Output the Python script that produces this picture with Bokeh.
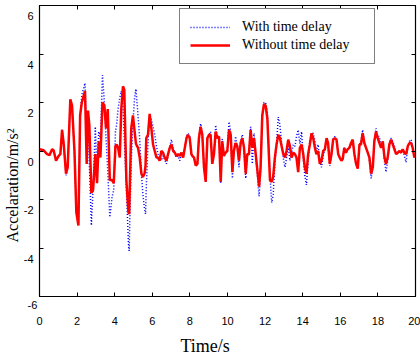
from bokeh.plotting import figure
from bokeh.models import (Range1d, LinearAxis, FixedTicker, Title, Legend,
                          LegendItem)
from bokeh.embed import file_html
from bokeh.resources import INLINE

x_ticks = [0, 2, 4, 6, 8, 10, 12, 14, 16, 18, 20]
y_ticks = [-6, -4, -2, 0, 2, 4, 6]
y_tick_labels = ["-6", "-4", "-2", "0", "2", "4", "6"]

time_s = [
    0.0, 0.22, 0.4, 0.53, 0.67, 0.75, 0.88, 1.02, 1.11, 1.2, 1.29, 1.41, 1.5, 1.64, 1.73, 1.86, 1.96, 2.07, 2.16, 2.25,
    2.35, 2.42, 2.51, 2.58, 2.65, 2.76, 2.85, 2.97, 3.06, 3.15, 3.24, 3.35, 3.45, 3.54, 3.63, 3.74, 3.86, 3.95, 4.04,
    4.1, 4.18, 4.27, 4.35, 4.44, 4.51, 4.62, 4.73, 4.77, 4.8, 4.88, 4.97, 5.06, 5.13, 5.24, 5.33, 5.42, 5.5, 5.59, 5.64,
    5.68, 5.77, 5.86, 5.95, 6.04, 6.13, 6.22, 6.3, 6.39, 6.48, 6.57, 6.66, 6.75, 6.84, 6.93, 7.02, 7.11, 7.2, 7.28, 7.37,
    7.46, 7.55, 7.64, 7.73, 7.82, 7.9, 7.99, 8.08,
    8.13, 8.22, 8.31, 8.4, 8.48, 8.57, 8.66, 8.75, 8.84, 8.93, 9.02, 9.1, 9.19, 9.28, 9.37, 9.46, 9.55, 9.64, 9.72, 9.81,
    9.9, 9.99, 10.08, 10.17, 10.26, 10.34, 10.43, 10.52, 10.61, 10.7, 10.79, 10.88, 10.97, 11.05, 11.14, 11.23, 11.32,
    11.41, 11.5, 11.59, 11.68, 11.76, 11.85, 11.94, 12.03, 12.12,
    12.17, 12.26, 12.35, 12.43, 12.52, 12.61, 12.7, 12.79, 12.88, 12.97, 13.06, 13.14, 13.23, 13.32, 13.41, 13.5, 13.59,
    13.67, 13.76, 13.85, 13.94, 14.03, 14.11, 14.2, 14.29, 14.38, 14.47, 14.56, 14.65, 14.73, 14.82, 14.91, 15.0, 15.09,
    15.18, 15.27, 15.35, 15.44, 15.53, 15.62, 15.71, 15.8, 15.89, 15.97, 16.06,
    16.13, 16.21, 16.3, 16.39, 16.48, 16.57, 16.66, 16.75, 16.84, 16.93, 17.02, 17.1, 17.19, 17.28, 17.37, 17.46, 17.55,
    17.64, 17.73, 17.81, 17.9, 17.99, 18.08, 18.17, 18.26, 18.35, 18.43, 18.52, 18.61, 18.7, 18.79, 18.88, 18.97, 19.06,
    19.14, 19.23, 19.32, 19.41, 19.5, 19.59, 19.68, 19.77, 19.85, 19.94, 20.0,
]

acc_without_delay = [
    0.07, 0.03, -0.13, -0.17, 0.07, 0.03, -0.4, -0.2, -0.13, 0.87, 0.27, -0.93, -0.67, 2.13, 1.87, 0.0, -2.53, -3.07, 1.47, 2.0,
    2.27, 2.47, -0.53, 1.67, 1.07, -1.73, -1.6, -0.13, -1.33, 0.4, -0.27, 2.0, 1.87, 0.93, 1.73, -1.2, -1.2, -1.33, 0.2,
    0.27, 0.13, -0.27, 1.73, 2.67, 2.53, -1.2, -2.53, -2.6, -1.6, 0.93, 1.47, 0.8, 0.3, 0.13, -0.27, -0.93, -1.07, -0.93, -0.6,
    0.53, 0.67, 1.53, 0.93, 0.27, 0.0, -0.27, -0.27, -0.4, 0.0, -0.07, -0.27, -0.4, -0.13, 0.13, 0.27, 0.0, -0.07, -0.2, -0.13,
    -0.2, -0.07, -0.27, 0.13, 0.53, 0.67, 0.53, -0.13,
    -0.2, -0.27, -0.6, -0.53, 0.53, 1.0, 0.67, -0.67, -1.27, 0.53, 0.67, 0.67, -0.53, -0.13, 0.8, 0.53, 0.6, -1.27, 0.4, -0.2,
    -0.07, 0.0, 0.87, 0.67, -0.87, 0.0, 0.33, 0.2, -0.4, 0.33, 0.53, 0.13, -0.93, -0.13, -0.13, 0.87, 0.13,
    0.53, -0.13, -0.8, -1.47, -0.67, 1.47, 1.93, 1.87, 1.33,
    0.4, -1.2, -1.27, -1.07, -0.27, 0.27, 0.67, 0.53, 0.2, -0.13, -0.27, 0.0, 0.47, 0.2, -0.27, -0.07, -0.13,
    -0.27, -0.87, 0.13, 0.27, -0.13, -0.67, -0.93, -0.13, 0.27, 0.73, 0.53, 0.13, -0.13, 0.0, -0.53, -0.4, 0.0,
    0.07, 0.53, 0.33, -0.53, -0.13, 0.47, 0.53, 0.47, -0.13, -0.27, -0.4,
    -0.33, 0.13, -0.07, 0.07, 0.13, 0.33, 0.47, -0.13, -0.53, -0.73, 0.27, 0.27, 0.73, 0.33, 0.13, -0.07, -0.27,
    -0.93, -0.67, 0.4, 0.8, 0.53, 0.33, 0.13, 0.4, -0.27, -0.53, -0.27, 0.27, 0.47, 0.27, 0.07, -0.13, -0.07,
    0.0, -0.07, 0.07, -0.07, -0.13, 0.2, 0.33, 0.33, 0.13, -0.27, -0.1,
]

acc_with_delay = [
    0.07, 0.03, -0.13, -0.17, 0.07, 0.03, -0.4, -0.2, -0.13, 0.87, 0.3, -1.0, -0.7, 2.1, 1.9, 0.0, -2.5, -3.0, 1.3, 2.3,
    2.6, 2.8, 0.8, 1.2, -0.5, -3.07, -1.5, 1.0, -1.0, 0.8, 0.5, 3.13, 2.0, 0.5, -0.8, -2.73, -1.9, -1.6, 0.8,
    1.07, 1.73, 2.2, 2.47, 1.8, 0.5, -1.5, -3.8, -4.13, -3.0, -0.5, 1.2, 2.2, 2.56, 1.47, 0.5, -0.93, -1.8, -2.4, -2.6,
    -1.5, 0.3, 1.5, 1.3, 1.0, 0.67, 0.2, -0.13, -0.3, -0.4, -0.2, -0.35, -0.53, -0.2, 0.2, 0.47, 0.1, -0.1, -0.27, -0.2,
    -0.4, -0.13, -0.27, 0.13, 0.6, 0.73, 0.6, -0.13,
    -0.2, -0.27, -0.6, -0.53, 0.6, 1.13, 0.67, -0.67, -1.27, 0.53, 0.67, 0.8, -0.53, -0.13, 1.07, 0.53, 0.6, -1.33, 0.5, -0.2,
    -0.07, 0.0, 1.2, 0.8, -1.13, 0.0, 0.6, 0.2, -0.67, 0.4, 0.67, 0.13, -1.13, -0.13, -0.13, 1.0, -0.53,
    0.73, -0.2, -1.0, -1.87, -0.9, 1.4, 2.0, 2.0, 1.6,
    0.7, -1.0, -2.13, -1.8, -0.5, 0.3, 1.4, 1.07, 0.3, -0.3, -0.67, -0.3, 0.2, -0.4, -0.1, 0.27, 0.2,
    0.6, 0.87, 0.3, 0.8, -0.3, -1.0, -1.4, -0.4, 0.4, 0.73, 0.73, 0.4, 0.0, 0.27, -0.4, -0.67, -0.2,
    0.1, 0.53, 0.2, -0.6, -0.2, 0.5, 0.6, 0.4, -0.13, -0.3, -0.4,
    -0.27, 0.13, -0.07, 0.07, 0.13, 0.2, 0.47, -0.13, -0.53, -0.73, 0.27, 0.4, 0.87, 0.33, 0.13, -0.07, -0.4,
    -1.13, -0.67, 0.4, 0.93, 0.6, 0.6, 0.13, 0.4, -0.4, -0.87, -0.4, 0.27, 0.53, 0.4, 0.2, -0.13, -0.07,
    0.0, -0.07, 0.07, -0.2, -0.47, 0.2, 0.4, 0.47, 0.13, -0.27, -0.1,
]

n = min(len(time_s), len(acc_without_delay), len(acc_with_delay))
time_s = time_s[:n]
acc_without_delay = acc_without_delay[:n]
acc_with_delay = acc_with_delay[:n]

SANS = "Liberation Sans"
SERIF = "Liberation Serif"
Y_MIN, Y_MAX = -6, 6
LABEL_SHIFT = 0.44  # tick labels sit ~11 px below their ticks in the reference

p = figure(width=420, height=361, output_backend="svg", toolbar_location=None,
           x_range=Range1d(0, 20), y_range=Range1d(Y_MIN, Y_MAX),
           min_border_left=39, min_border_right=5, min_border_top=5, min_border_bottom=58)
p.extra_y_ranges = {"ylab": Range1d(Y_MIN + LABEL_SHIFT, Y_MAX + LABEL_SHIFT)}
p.background_fill_color = "white"
p.border_fill_color = "white"
p.outline_line_color = "black"
p.outline_line_width = 1.2
p.xgrid.visible = False
p.ygrid.visible = False


def ticks_only(axis):
    axis.major_tick_in = 4
    axis.major_tick_out = 0
    axis.minor_tick_line_color = None
    axis.axis_line_color = "black"
    axis.major_label_text_font_size = "0px"
    axis.major_label_text_color = None
    axis.major_label_standoff = 0


# bottom: ticks on the frame edge, then the "-6" of the y scale, then x labels
xa = p.xaxis[0]
xa.ticker = FixedTicker(ticks=x_ticks)
ticks_only(xa)

p.add_layout(Title(text=y_tick_labels[0], align="left", offset=-12, standoff=4,
                   text_font=SANS, text_font_size="11px", text_font_style="normal",
                   text_color="black"), "below")

xlab_axis = LinearAxis(ticker=FixedTicker(ticks=x_ticks), axis_line_color=None,
                       major_tick_line_color=None, minor_tick_line_color=None,
                       major_label_standoff=0, major_label_text_font=SANS,
                       major_label_text_font_size="11px", major_label_text_color="black")
p.add_layout(xlab_axis, "below")

# left: ticks on the frame edge, then labels on a shifted range
ya = p.yaxis[0]
ya.ticker = FixedTicker(ticks=y_ticks)
ticks_only(ya)

ylab_axis = LinearAxis(y_range_name="ylab", ticker=FixedTicker(ticks=y_ticks),
                       major_label_overrides={v: t for v, t in zip(y_ticks, y_tick_labels)},
                       axis_line_color=None, major_tick_line_color=None,
                       minor_tick_line_color=None, major_label_standoff=0,
                       major_label_text_font=SANS, major_label_text_font_size="11px",
                       major_label_text_color="black")
p.add_layout(ylab_axis, "left")

ra = LinearAxis(ticker=FixedTicker(ticks=y_ticks))
ticks_only(ra)
p.add_layout(ra, "right")
ta = LinearAxis(ticker=FixedTicker(ticks=x_ticks))
ticks_only(ta)
p.add_layout(ta, "above")

# titles
p.add_layout(Title(text="Time/s", align="left", offset=141, standoff=12,
                   text_font=SERIF, text_font_size="18px", text_font_style="normal",
                   text_color="black"), "below")
p.add_layout(Title(text="Accelaration/m/s\u00b2", align="left", offset=54, standoff=0,
                   text_font=SERIF, text_font_size="16px", text_font_style="normal",
                   text_color="black"), "left")

blue = p.line(time_s, acc_with_delay, line_color="#0000FF", line_width=1.5, line_dash="1 2")
red = p.line(time_s, acc_without_delay, line_color="#FF0000", line_width=2.5)

legend = Legend(items=[LegendItem(label="With time delay", renderers=[blue]),
                       LegendItem(label="Without time delay", renderers=[red])],
                location=(140, 232), glyph_width=40, glyph_height=16, label_height=16,
                label_width=122, label_standoff=12, padding=10, spacing=2, margin=0,
                border_line_color="black", border_line_width=1, background_fill_alpha=1,
                label_text_font=SERIF, label_text_font_size="14px", label_text_color="black")
p.add_layout(legend)

open("out.html", "w").write(file_html(p, INLINE))
